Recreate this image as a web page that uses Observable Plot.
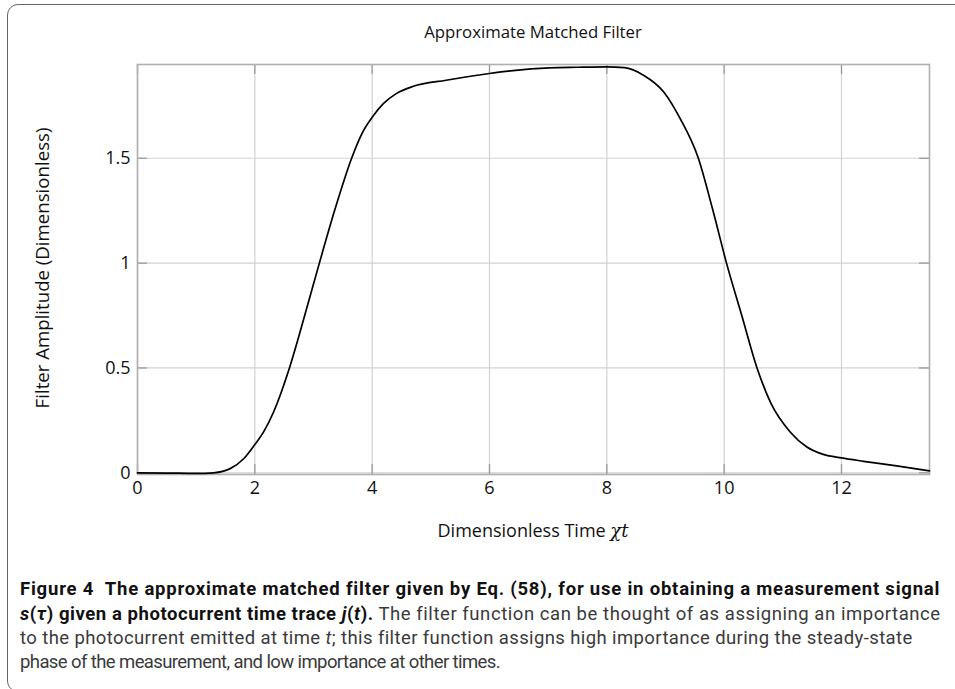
<!DOCTYPE html>
<html>
<head>
<meta charset="utf-8">
<script src="https://cdn.jsdelivr.net/npm/d3@7"></script>
<script src="https://cdn.jsdelivr.net/npm/@observablehq/plot@0.6"></script>
<style>
  html, body { margin: 0; padding: 0; background: #fff; }
  #wrap { position: relative; width: 955px; height: 689px; overflow: hidden; background: #fff; }
  #box { position: absolute; left: 7px; top: 4px; width: 1000px; height: 688px; border: 1.4px solid #666; border-radius: 11px; box-sizing: border-box; }
  #chart { position: absolute; left: 0; top: 0; }
  #chart svg text { font-family: "Open Sans", Lato, sans-serif; }
  .lbl { position: absolute; font-family: "Open Sans", Lato, sans-serif; font-size: 16px; line-height: 22px; color: #111; white-space: nowrap; }
  #title { left: 0; width: 1066px; top: 21px; text-align: center; }
  #xlabel { left: 0; width: 1066px; top: 519px; text-align: center; }
  #ylabel { left: 42px; top: 268px; transform: translate(-50%, -50%) rotate(-90deg); }
  .math { font-family: "DejaVu Serif", "Liberation Serif", serif; font-style: italic; }
  .cap { position: absolute; left: 20px; font-family: "Liberation Sans Narrow", Roboto, sans-serif; font-size: 18.5px; line-height: 25px; color: #3a3a3a; white-space: nowrap; }
  .cap b { color: #111; }
</style>
</head>
<body>
<div id="wrap">
  <div id="box"></div>
  <div id="chart"></div>
  <div class="lbl" id="title"><span>Approximate Matched Filter</span></div>
  <div class="lbl" id="xlabel"><span>Dimensionless Time <span class="math">χt</span></span></div>
  <div class="lbl" id="ylabel">Filter Amplitude (Dimensionless)</div>
  <div class="cap" id="c1" style="top:577px"><b>Figure 4&nbsp;&nbsp;The approximate matched filter given by Eq. (58), for use in obtaining a measurement signal</b></div>
  <div class="cap" id="c2" style="top:602px"><b><i>s</i>(<i>τ</i>) given a photocurrent time trace <i>j</i>(<i>t</i>).</b> The filter function can be thought of as assigning an importance</div>
  <div class="cap" id="c3" style="top:626px">to the photocurrent emitted at time <i>t</i>; this filter function assigns high importance during the steady-state</div>
  <div class="cap" id="c4" style="top:650px">phase of the measurement, and low importance at other times.</div>
</div>
<script>
// Dimensionless time (χt)
const timeValues = [0, 0.5, 1.0, 1.3, 1.58, 1.81, 2.0, 2.15, 2.32, 2.59, 2.85, 3.1, 3.37, 3.65, 3.83, 4.0, 4.19, 4.41, 4.7, 5.26, 6.0, 6.4, 7.02, 7.5, 8.0, 8.3, 8.625, 8.97, 9.25, 9.56, 9.8, 10.04, 10.3, 10.56, 10.8, 11.125, 11.41, 11.69, 12.0, 12.375, 12.94, 13.5];
// Filter amplitude (dimensionless)
const amplitudeValues = [0, -0.001, -0.003, 0, 0.02, 0.067, 0.135, 0.195, 0.29, 0.5, 0.75, 1.0, 1.26, 1.5, 1.62, 1.695, 1.76, 1.808, 1.843, 1.872, 1.904, 1.918, 1.931, 1.934, 1.936, 1.932, 1.896, 1.816, 1.689, 1.5, 1.26, 1.0, 0.75, 0.5, 0.33, 0.195, 0.123, 0.088, 0.071, 0.055, 0.033, 0.009];
const xTicks = [0, 2, 4, 6, 8, 10, 12];
const yTicks = [0, 0.5, 1, 1.5];

const data = timeValues.map((t, i) => ({t, a: amplitudeValues[i]}));

const W = 955, H = 560, mL = 137, mR = 26, mT = 64, mB = 86;
const fw = W - mL - mR, fh = H - mT - mB, tl = 10;

const chart = Plot.plot({
  width: W, height: H,
  marginLeft: mL, marginRight: mR, marginTop: mT, marginBottom: mB,
  style: {fontFamily: "'Open Sans', Lato, sans-serif", fontSize: "18px", color: "#111", background: "transparent"},
  x: {domain: [0, 13.5]},
  y: {domain: [-0.008, 1.947]},
  marks: [
    Plot.gridX(xTicks, {stroke: "#d2d2d2", strokeOpacity: 1, strokeWidth: 1.2}),
    Plot.gridY(yTicks, {stroke: "#d2d2d2", strokeOpacity: 1, strokeWidth: 1.2}),
    Plot.ruleX(xTicks, {x: d => d, insetTop: fh - tl, stroke: "#9a9a9a", strokeWidth: 1.3}),
    Plot.ruleX(xTicks, {x: d => d, insetBottom: fh - tl, stroke: "#9a9a9a", strokeWidth: 1.3}),
    Plot.ruleY(yTicks, {y: d => d, insetRight: fw - tl, stroke: "#9a9a9a", strokeWidth: 1.3}),
    Plot.ruleY(yTicks, {y: d => d, insetLeft: fw - tl, stroke: "#9a9a9a", strokeWidth: 1.3}),
    Plot.frame({stroke: "#b0b0b0", strokeWidth: 1.6}),
    Plot.axisX(xTicks, {tickSize: 0, tickPadding: 7, label: null, tickFormat: d => String(d), fontSize: 18}),
    Plot.axisY(yTicks, {tickSize: 0, tickPadding: 7, label: null, tickFormat: d => String(d), fontSize: 18}),
    Plot.line(data, {x: "t", y: "a", curve: "monotone-x", stroke: "#000", strokeWidth: 1.7})
  ]
});
document.getElementById("chart").appendChild(chart);

// size chart labels to the reference widths
function fitSize(el, target, box) {
  const w = box ? box.offsetWidth : el.getBoundingClientRect().width;
  const fs = parseFloat(getComputedStyle(el).fontSize);
  el.style.fontSize = (fs * target / w) + "px";
}
fitSize(document.querySelector("#title span"), 218);
fitSize(document.querySelector("#xlabel > span"), 191);
const yl = document.getElementById("ylabel");
fitSize(yl, 281, yl);
// caption lines: match each line's width by letter-spacing
function fit(el, target) {
  const n = el.textContent.length;
  const w = el.getBoundingClientRect().width;
  el.style.letterSpacing = ((target - w) / n) + "px";
}
fit(document.getElementById("c1"), 920);
fit(document.getElementById("c2"), 920);
fit(document.getElementById("c3"), 892);
fit(document.getElementById("c4"), 480);
</script>
</body>
</html>
